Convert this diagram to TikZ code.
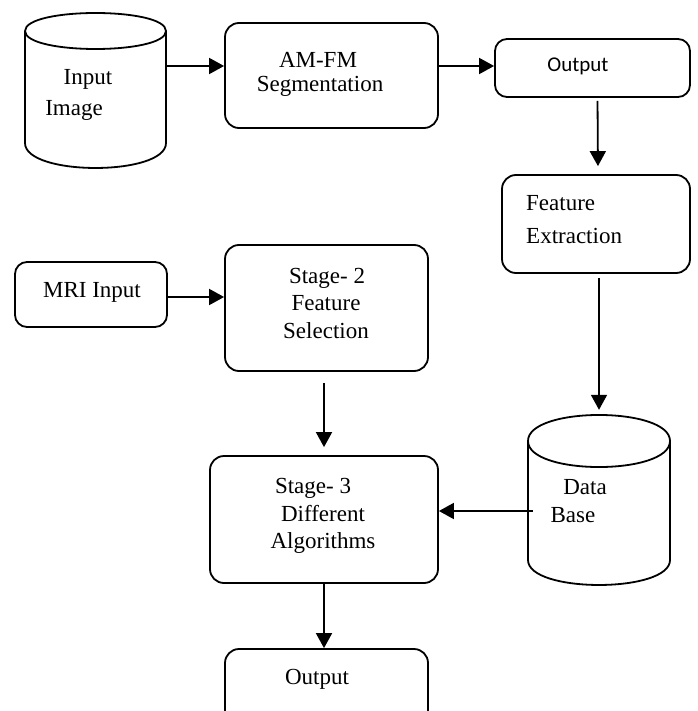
\documentclass[tikz,border=0pt]{standalone}
\usepackage{fontspec}
\setmainfont{Liberation Serif}
\newfontfamily\calibfont{Carlito}
\usetikzlibrary{arrows.meta}
\begin{document}
\begin{tikzpicture}[x=1pt,y=-1pt,
  lw/.style={line width=1.8pt},
  box/.style={draw, lw, rounded corners=14pt, inner sep=0pt},
  hid/.style={inner sep=0pt},
  txt/.style={font=\fontsize{23}{27}\selectfont, inner sep=0pt, anchor=base},
  stxt/.style={font=\calibfont\fontsize{21}{25}\selectfont, inner sep=0pt, anchor=base},
  arr/.style={lw, -{Triangle[length=15pt,width=16pt]}}]
\clip (0,0) rectangle (697,711);
% Input Image cylinder
\node[hid, minimum width=141pt, minimum height=155pt] (inimg) at (95.5,90.5) {};
\draw[lw] (25,31) .. controls (25,7) and (166,7) .. (166,31) .. controls (166,55) and (25,55) .. (25,31);
\draw[lw] (25,31) -- (25,143) .. controls (25,176.3) and (166,176.3) .. (166,143) -- (166,31);
\node[txt] (tinput) at (88,85) {Input};
\node[txt] (timage) at (74,116) {Image};
% AM-FM box
\node[box, minimum width=213pt, minimum height=105pt] (amfm) at (331.5,75.5) {};
\node[txt] (tamfm) at (318,68) {AM-FM};
\node[txt] (tseg) at (320,92) {Segmentation};
% top Output
\node[box, rounded corners=12pt, minimum width=195pt, minimum height=58pt] (outtop) at (592.5,68) {};
\node[stxt] (toutt) at (578,72) {Output};
% Feature Extraction
\node[box, minimum width=188pt, minimum height=98pt] (feat) at (596,224) {};
\node[txt, anchor=base west] (tfeat) at (526,211) {Feature};
\node[txt, anchor=base west] (textr) at (526,243) {Extraction};
% MRI input
\node[box, rounded corners=12pt, minimum width=152pt, minimum height=65pt] (mri) at (91,294.5) {};
\node[txt] (tmri) at (92,297) {MRI Input};
% Stage 2
\node[box, minimum width=203pt, minimum height=126pt] (st2) at (326.5,308) {};
\node[txt] (ts2a) at (327,283) {Stage- 2};
\node[txt] (ts2b) at (326,310) {Feature};
\node[txt] (ts2c) at (326,338) {Selection};
% Database cylinder
\node[hid, minimum width=142pt, minimum height=170pt] (db) at (599,500) {};
\draw[lw] (528,441) .. controls (528,406.3) and (670,406.3) .. (670,441) .. controls (670,475.7) and (528,475.7) .. (528,441);
\draw[lw] (528,441) -- (528,560) .. controls (528,593.3) and (670,593.3) .. (670,560) -- (670,441);
\node[txt] (tdata) at (585,494) {Data};
\node[txt] (tbase) at (573,522) {Base};
% Stage 3
\node[box, minimum width=228pt, minimum height=127pt] (st3) at (324,519.5) {};
\node[txt] (ts3a) at (313,493) {Stage- 3};
\node[txt] (ts3b) at (323,521) {Different};
\node[txt] (ts3c) at (323,548) {Algorithms};
% bottom Output
\node[box, minimum width=203pt, minimum height=90pt] (outb) at (326.5,694) {};
\node[txt] (toutb) at (317,684) {Output};
% connectors
\draw[arr] (inimg.east |- 0,66) -- (amfm.west |- 0,66);
\draw[arr] (amfm.east |- 0,66) -- (outtop.west |- 0,66);
\draw[arr, shorten <=3pt, shorten >=8pt] ([xshift=5pt]outtop.south) -- ([xshift=2pt]feat.north);
\draw[arr, shorten <=4pt, shorten >=5pt] (db.north |- feat.south) -- (db.north);
\draw[arr] ([xshift=5pt]db.west |- 0,511) -- (st3.east |- 0,511);
\draw[arr] (mri.east |- 0,297) -- (st2.west |- 0,297);
\draw[arr, shorten <=11pt, shorten >=8pt] (st3.north |- st2.south) -- (st3.north);
\draw[arr] (st3.south) -- (st3.south |- outb.north);
\end{tikzpicture}
\end{document}
